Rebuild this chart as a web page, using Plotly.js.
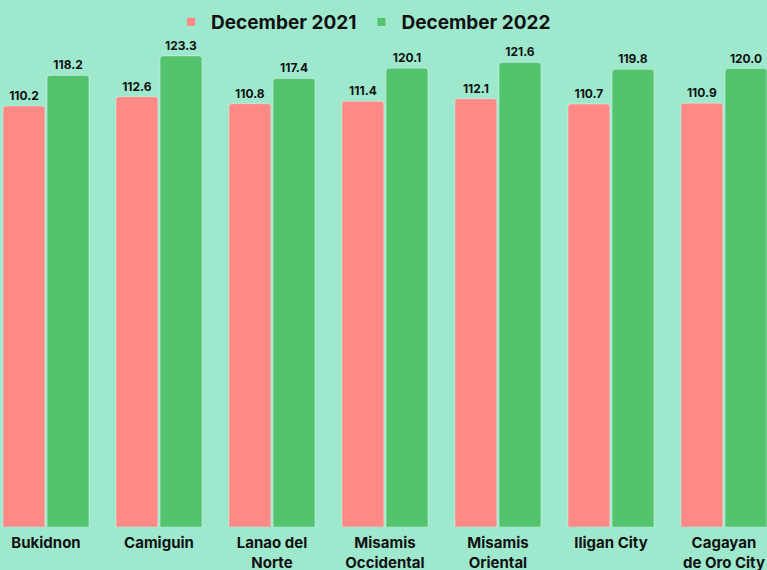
<!DOCTYPE html>
<html><head><meta charset="utf-8">
<script src="https://cdn.plot.ly/plotly-3.0.1.min.js"></script>
<style>html,body{margin:0;padding:0;background:#9EE9CE;}#chart{width:767px;height:570px;}</style>
</head><body><div id="chart"></div>
<script>
const categories = ["Bukidnon", "Camiguin", "Lanao del<br>Norte", "Misamis<br>Occidental", "Misamis<br>Oriental", "Iligan City", "Cagayan<br>de Oro City"];
const dec2021 = [110.2, 112.6, 110.8, 111.4, 112.1, 110.7, 110.9];
const dec2022 = [118.2, 123.3, 117.4, 120.1, 121.6, 119.8, 120.0];
const seriesNames = ["December 2021", "December 2022"];
const colors = ['#FF8A85', '#53C36E'];

const FONT = "Inter, 'Open Sans', sans-serif";
function mk(name, vals, color) {
  return {
    type: 'bar', name: name, x: categories, y: vals, showlegend: false, legendgroup: name,
    text: vals.map(v => v.toFixed(1)), textposition: 'outside', cliponaxis: false,
    textfont: {family: FONT, size: 12, color: '#111', weight: 700},
    marker: {color: color, cornerradius: 3, line: {color: 'rgba(255,255,255,0.35)', width: 1}},
    hoverinfo: 'skip'
  };
}
function legendEntry(name, color) {
  return {type: 'scatter', mode: 'markers', name: name, legendgroup: name, x: [categories[0]], y: [null],
          marker: {symbol: 'square', size: 8, color: color}, hoverinfo: 'skip'};
}
const data = [mk(seriesNames[0], dec2021, colors[0]), mk(seriesNames[1], dec2022, colors[1]),
              legendEntry(seriesNames[0], colors[0]), legendEntry(seriesNames[1], colors[1])];
const layout = {
  width: 767, height: 570,
  paper_bgcolor: '#9EE9CE', plot_bgcolor: '#9EE9CE',
  margin: {l: 0, r: 0, t: 40, b: 43},
  barmode: 'group', bargap: 0.22, bargroupgap: 0.05,
  font: {family: FONT, color: '#111'},
  showlegend: true,
  legend: {orientation: 'h', x: 0.474, xanchor: 'center', yref: 'container', y: 1 - 22/570, yanchor: 'middle',
           font: {family: FONT, size: 19, color: '#111', weight: 700}, bgcolor: 'rgba(0,0,0,0)'},
  xaxis: {type: 'category', range: [-0.407, 6.381], showgrid: false, zeroline: false, showline: false,
          ticks: '', ticklabelstandoff: 5, tickfont: {family: FONT, size: 15, color: '#111', weight: 700}, fixedrange: true},
  yaxis: {range: [0, 127.2], visible: false, showgrid: false, zeroline: false, fixedrange: true}
};
Plotly.newPlot('chart', data, layout, {displayModeBar: false, staticPlot: true});
</script></body></html>
